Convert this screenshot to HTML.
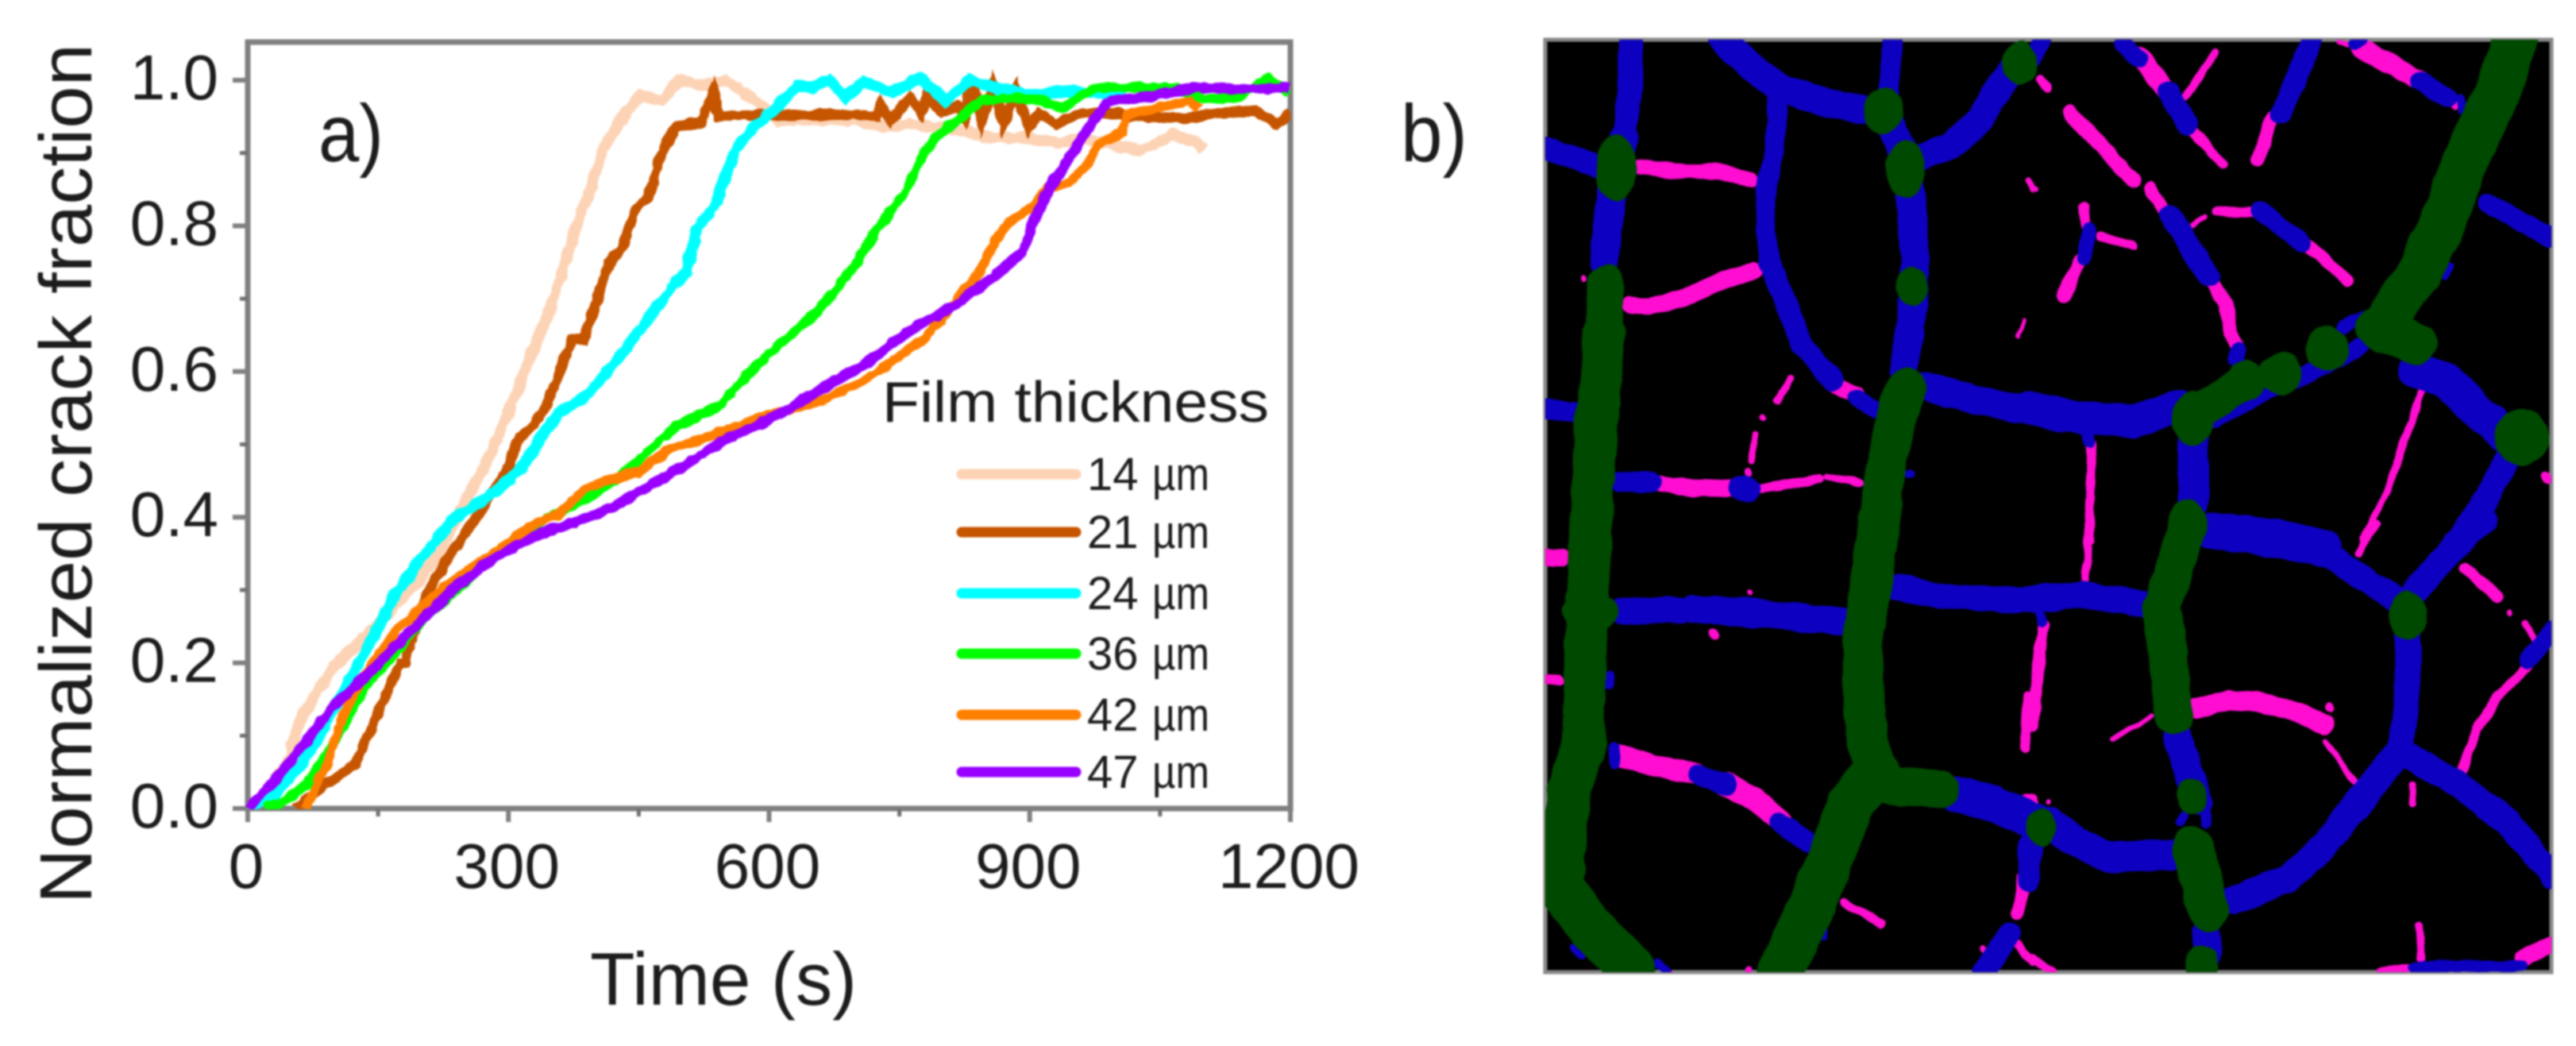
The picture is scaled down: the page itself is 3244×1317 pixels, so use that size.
<!DOCTYPE html>
<html lang="en">
<head>
<meta charset="utf-8">
<title>Crack fraction chart and crack map</title>
<style>
html,body{margin:0;padding:0;background:#fff;width:3244px;height:1317px;overflow:hidden}
svg{display:block;filter:blur(1px)}
text{font-family:"Liberation Sans",sans-serif;fill:#1c1c1c}
</style>
</head>
<body>
<svg id="fig" xmlns="http://www.w3.org/2000/svg" width="3244" height="1317" viewBox="0 0 3244 1317">
  <defs>
    <clipPath id="mapClip"><rect x="1946" y="50" width="1267" height="1174"/></clipPath>
    <clipPath id="plotClip"><rect x="308" y="53" width="1317" height="966"/></clipPath>
    <filter id="roughMap" filterUnits="userSpaceOnUse" x="1900" y="0" width="1344" height="1317">
      <feTurbulence type="fractalNoise" baseFrequency="0.035" numOctaves="2" seed="4"/>
      <feDisplacementMap in="SourceGraphic" scale="7" xChannelSelector="R" yChannelSelector="G"/>
    </filter>
    <filter id="roughLine" filterUnits="userSpaceOnUse" x="280" y="30" width="1380" height="1010">
      <feTurbulence type="fractalNoise" baseFrequency="0.07" numOctaves="2" seed="9"/>
      <feDisplacementMap in="SourceGraphic" scale="7" xChannelSelector="R" yChannelSelector="G"/>
    </filter>
  </defs>
  <g id="chart">
    <rect x="312" y="53" width="1313" height="965" fill="none" stroke="#808080" stroke-width="7"/>
    <g id="yticks"></g>
    <g id="xticks"></g>
    <g clip-path="url(#plotClip)">
      <g id="series" filter="url(#roughLine)"></g>
    </g>
    <text transform="translate(115,1138) rotate(-90)" font-size="93" textLength="1083" lengthAdjust="spacingAndGlyphs">Normalized crack fraction</text>
    <text x="743" y="1265" font-size="94" textLength="336" lengthAdjust="spacingAndGlyphs">Time (s)</text>
    <text x="401" y="203" font-size="102" textLength="82" lengthAdjust="spacingAndGlyphs">a)</text>
    <text x="1111" y="531" font-size="72" textLength="487" lengthAdjust="spacingAndGlyphs">Film thickness</text>
    <g id="legend"></g>
  </g>
  <text x="1764" y="203" font-size="102" textLength="84" lengthAdjust="spacingAndGlyphs">b)</text>
  <g id="mapOuter">
    <rect x="1946" y="50" width="1267" height="1174" fill="#000" stroke="#888" stroke-width="5"/>
    <g clip-path="url(#mapClip)">
      <g id="map" filter="url(#roughMap)"></g>
    </g>
  </g>
</svg>
<script>
// Chart data
const thicknessLabels = ["14", "21", "24", "36", "42", "47"];
const seriesColors = ["#fdd3b6", "#c65500", "#00ffff", "#00ff00", "#ff7f00", "#9900ff"];
const xTickLabels = [0, 300, 600, 900, 1200];
const xMinorTicks = [150, 450, 750, 1050];
const yTickLabels = ["0.0", "0.2", "0.4", "0.6", "0.8", "1.0"];
const yTickValues = [0, 0.2, 0.4, 0.6, 0.8, 1.0];
const yMinorTicks = [0.1, 0.3, 0.5, 0.7, 0.9];

const time14 = [0,20,46,59,82,101,143,195,218,250,279,301,330,350,368,383,395,409,432,452,476,497,525,550,571,591,612,650,700,733,760,790,825,855,896,933,960,986,1027,1064,1089,1100];
const frac14 = [0,0.02,0.063,0.118,0.165,0.197,0.245,0.31,0.347,0.42,0.485,0.546,0.634,0.692,0.761,0.816,0.852,0.906,0.95,0.979,0.972,1.0,0.993,1.0,0.983,0.965,0.944,0.946,0.945,0.936,0.94,0.936,0.93,0.921,0.921,0.914,0.92,0.914,0.903,0.925,0.917,0.906];

const time21 = [55,70,87,124,153,176,180,208,232,269,301,309,330,344,362,373,387,416,431,444,464,476,493,522,536,542,583,650,700,725,729,740,762,775,782,800,817,825,833,845,858,870,885,899,910,930,960,990,1030,1080,1120,1160,1185,1200];
const frac21 = [0,0.015,0.03,0.062,0.14,0.2,0.2,0.3,0.347,0.409,0.47,0.503,0.529,0.554,0.608,0.644,0.644,0.75,0.769,0.816,0.848,0.9,0.936,0.943,0.983,0.95,0.952,0.952,0.953,0.95,0.965,0.945,0.976,0.955,0.979,0.955,0.965,0.95,1.004,0.945,0.99,0.94,0.985,0.935,0.955,0.94,0.955,0.955,0.95,0.948,0.955,0.958,0.94,0.955];

const time24 = [0,31,64,101,139,171,204,237,288,316,344,358,395,432,485,505,517,537,554,562,582,611,632,650,668,688,709,741,774,803,831,864,905,940,975,1010];
const frac24 = [0,0.02,0.063,0.14,0.224,0.296,0.35,0.398,0.437,0.47,0.521,0.543,0.572,0.627,0.71,0.739,0.797,0.827,0.881,0.905,0.936,0.965,0.992,0.99,1.001,0.977,0.998,0.983,1.003,0.972,1.0,0.988,0.98,0.985,0.982,0.985];

const time36 = [20,45,69,101,134,171,208,250,288,344,390,428,456,493,544,578,619,660,701,725,754,770,791,815,844,885,915,937,955,978,1027,1068,1100,1140,1158,1175,1200];
const frac36 = [0,0.012,0.034,0.093,0.165,0.216,0.267,0.31,0.354,0.398,0.425,0.456,0.485,0.525,0.554,0.6,0.644,0.688,0.75,0.797,0.841,0.881,0.921,0.943,0.972,0.976,0.972,0.961,0.976,0.99,0.99,0.99,0.974,0.976,0.99,1.004,0.98];

const time42 = [66,92,110,129,171,232,279,325,358,390,418,451,483,512,554,600,660,713,782,819,844,860,876,905,921,945,966,978,1006,1013,1043,1084,1095];
const frac42 = [0,0.063,0.129,0.172,0.245,0.31,0.347,0.387,0.405,0.44,0.452,0.463,0.492,0.503,0.521,0.54,0.56,0.59,0.649,0.703,0.739,0.78,0.805,0.827,0.852,0.859,0.884,0.911,0.928,0.954,0.961,0.972,0.96];

const time47 = [0,36,64,101,143,176,204,241,288,330,377,418,465,507,544,591,619,660,713,766,815,839,872,892,905,925,945,966,990,1043,1088,1140,1200];
const frac47 = [0,0.045,0.088,0.143,0.19,0.23,0.263,0.306,0.347,0.374,0.394,0.412,0.445,0.474,0.503,0.529,0.546,0.576,0.612,0.66,0.692,0.714,0.743,0.764,0.808,0.856,0.892,0.932,0.97,0.979,0.99,0.988,0.99];

const seriesTimes = [time14, time21, time24, time36, time42, time47];
const seriesFractions = [frac14, frac21, frac24, frac36, frac42, frac47];
const seriesWidths = [14, 13, 14, 12, 12, 13];

// Crack map tracing: each list holds [width, "x,y ..."] traced in one of four image tiles.
const tileOrigins = [[1900,20,2.376,2.376],[2560,20,2.306,2.376],[1900,660,2.376,2.53],[2560,660,2.306,2.53]];

const pinkTile0 = [[45,"390,450 500,465 620,465 725,490"],[50,"365,865 420,870 520,845 640,790 735,765"],[50,"430,1395 530,1410 655,1415"],[30,"755,1415 830,1405 930,1385"],[22,"955,1380 1050,1395"],[22,"715,1362 718,1368"],[18,"722,1330 737,1250"],[18,"757,1203 758,1205"],[20,"800,1150 845,1085"],[50,"980,1105 1040,1135"],[12,"1525,960 1545,910"],[18,"1555,495 1568,520"],[15,"225,785 226,788"]];
const pinkTile1 = [[55,"310,120 390,230"],[25,"445,240 530,110"],[30,"20,190 45,215"],[45,"110,290 200,390 290,490"],[35,"340,510 390,600"],[30,"455,330 550,445"],[40,"700,300 650,430"],[15,"890,78 930,90"],[60,"950,95 1120,190"],[30,"1205,250 1225,265"],[35,"790,680 915,790"],[28,"535,585 640,585"],[15,"460,625 500,605"],[28,"150,570 155,630"],[28,"200,660 290,685"],[38,"135,730 90,840"],[40,"505,780 560,860 575,950 590,985"],[15,"0,515 10,520"],[28,"170,1280 165,1568"],[22,"1130,1115 1070,1300 1030,1420 960,1568"],[30,"1490,1375 1492,1385"],[16,"1328,540 1330,545"]];
const pinkTile2 = [[55,"108,105 160,105"],[30,"108,495 150,500"],[65,"330,735 440,770 560,795"],[70,"650,830 740,880 810,940"],[28,"615,350 616,355"],[25,"1005,1205 1115,1275"],[30,"1555,550 1545,710"],[40,"1540,1130 1525,1235"],[25,"1520,1340 1568,1390"],[25,"1505,1285 1506,1288"],[18,"1420,1350 1421,1353"],[15,"480,1425 470,1420"],[20,"715,1420 716,1423"],[30,"1545,875 1568,875"],[15,"720,215 721,220"]];
const pinkTile3 = [[22,"160,0 155,180"],[35,"30,320 0,640"],[22,"1000,0 945,90"],[35,"1255,140 1350,230"],[18,"1385,280 1386,284"],[20,"1430,315 1455,370"],[30,"1440,450 1350,550 1290,650 1245,790"],[60,"480,585 570,560 650,565 740,590 845,635"],[25,"860,580 861,583"],[18,"850,690 935,820"],[16,"345,610 235,685"],[22,"1105,830 1105,890"],[25,"1120,1280 1125,1380"],[25,"1010,1425 1095,1410"],[30,"1210,1410 1300,1410"],[50,"1420,1385 1500,1340"],[25,"0,1380 60,1425"],[15,"0,880 10,885"],[14,"45,885 46,887"]];

const blueTile0 = [[70,"365,70 365,200 345,360"],[85,"345,360 310,520 285,740"],[70,"108,395 200,425 290,460"],[85,"640,70 720,150 810,215 950,260 1090,285"],[60,"1150,70 1135,230"],[58,"805,250 790,450 765,520 770,650 780,740"],[65,"780,740 830,860 880,990 970,1090"],[50,"1040,1145 1125,1190"],[85,"1125,290 1190,430 1210,600 1215,800 1200,950 1180,1060"],[80,"1240,420 1320,390 1410,310 1470,210 1530,130"],[85,"1240,1105 1400,1150 1580,1185"],[60,"330,1395 430,1395"],[60,"108,1175 200,1185"],[25,"1195,1370 1205,1370"]];
const blueTile1 = [[100,"-10,1175 100,1195 200,1205 300,1210 420,1170"],[30,"160,1250 165,1275"],[90,"465,1260 465,1460"],[50,"30,70 0,130"],[50,"260,80 310,130"],[65,"395,230 450,325"],[65,"810,70 760,200 720,290"],[55,"660,580 780,680"],[65,"400,600 450,680 510,780"],[45,"165,640 150,720"],[45,"595,1000 590,1030"],[30,"930,85 960,75"],[60,"1125,195 1200,245"],[30,"1240,250 1250,280"],[55,"520,1210 660,1130 800,1070 950,990"],[40,"900,930 960,900"],[105,"1110,1060 1200,1090 1300,1190 1380,1260"],[60,"1320,560 1500,660"],[75,"1380,1320 1320,1440 1230,1580"],[90,"520,1530 700,1550 850,1580"],[25,"1210,750 1195,780"]];
const blueTile2 = [[80,"340,275 510,275"],[85,"550,270 700,280 1000,310"],[75,"1160,200 1300,230 1580,245"],[110,"1340,860 1450,890 1580,950"],[35,"315,710 315,760"],[65,"570,800 650,830"],[60,"810,950 890,1010"],[65,"1500,1300 1420,1430"],[60,"1555,1020 1555,1140"],[30,"200,1350 215,1370"],[25,"445,1395 470,1420"],[25,"945,1290 945,1310"],[30,"300,480 300,510"]];
const blueTile3 = [[80,"-10,240 140,225 330,255"],[30,"20,290 25,310"],[75,"510,35 700,65 860,100 1000,200 1085,260"],[80,"1100,230 1230,60 1310,-10"],[75,"1090,350 1090,500 1080,620 1060,730"],[85,"1060,730 950,880 850,1020 740,1130 580,1200"],[80,"1080,730 1240,830 1380,950 1510,1120"],[85,"420,670 450,780 480,880"],[30,"440,930 430,950"],[30,"500,920 505,950"],[90,"50,950 120,1010 220,1060 410,1050"],[80,"500,1300 510,1370"],[55,"1440,430 1510,340"],[35,"1105,1410 1420,1405"],[35,"0,1100 20,1000"]];

const greenTile0 = [[110,"290,800 285,950"],[125,"285,950 265,1200"],[130,"262,1200 255,1380"],[120,"250,1380 250,1580"],[120,"1190,1110 1150,1230 1120,1400 1105,1580"]];
const greenTile1 = [[135,"1400,75 1350,230 1270,400 1190,620 1120,770"],[130,"1120,770 1040,890 1010,940"],[125,"1000,930 1110,980"],[105,"460,1200 620,1090"]];
const greenTile2 = [[125,"245,-10 240,150 235,250 230,400 225,600 225,700"],[130,"225,700 180,850 160,1100"],[140,"150,1150 250,1290 370,1420"],[120,"1105,-10 1085,200 1060,330 1060,500 1075,700 1100,770"],[140,"1100,790 1020,900 950,1100 880,1280 810,1430"],[115,"1100,830 1290,845"]];
const greenTile3 = [[115,"450,-10 410,150 375,260"],[115,"375,260 390,400 410,610"],[125,"465,1030 510,1230"]];

const blueBlobs = [[0,705,1415,50,40]];
const greenBlobs = [[0,322,455,60,100],[0,1122,285,58,70],[0,1187,458,58,85],[0,1208,808,48,55],[0,1530,140,52,65],[1,855,995,62,68],[1,720,1070,60,65],[1,620,1090,55,60],[1,465,1205,60,80],[1,1420,1260,80,85],[1,450,1520,55,75],[2,245,280,85,60],[3,462,870,45,55],[3,25,965,45,60],[3,490,1400,50,60],[3,1090,290,55,80]];

const SVGNS = "http://www.w3.org/2000/svg";
const xLeft = 312, xRight = 1625, yZero = 1018, yOne = 101;
function xAxis(t){ return xLeft + (t / 1200) * (xRight - xLeft); }
function yAxis(f){ return yZero - f * (yZero - yOne); }
function make(tag, parent, attrs){
  const el = document.createElementNS(SVGNS, tag);
  for (const k in attrs) el.setAttribute(k, attrs[k]);
  parent.appendChild(el);
  return el;
}
const yticks = document.getElementById("yticks");
const xticks = document.getElementById("xticks");
yTickValues.forEach(function(v, i){
  const tick = make("line", yticks, {x1: xLeft - 19, x2: xLeft, y1: yAxis(v), y2: yAxis(v), stroke: "#808080", "stroke-width": 6});
  
  
  const label = make("text", yticks, {x: 275, y: yAxis(v) + 24, "font-size": 80, "text-anchor": "end"});
  
  
  label.textContent = yTickLabels[i];
});
yMinorTicks.forEach(function(v){
  const tick = make("line", yticks, {x1: xLeft - 10, x2: xLeft, y1: yAxis(v), y2: yAxis(v), stroke: "#707070", "stroke-width": 5});
  
  
});
xTickLabels.forEach(function(v){
  const tick = make("line", xticks, {x1: xAxis(v), x2: xAxis(v), y1: yZero, y2: yZero + 17, stroke: "#808080", "stroke-width": 6});
  
  
  const label = make("text", xticks, {x: xAxis(v) - 2, y: 1118, "font-size": 80, "text-anchor": "middle"});
  
  
  label.textContent = String(v);
});
xMinorTicks.forEach(function(v){
  const tick = make("line", xticks, {x1: xAxis(v), x2: xAxis(v), y1: yZero, y2: yZero + 10, stroke: "#707070", "stroke-width": 5});
  
  
});
const seriesGroup = document.getElementById("series");
seriesTimes.forEach(function(times, i){
  const pts = times.map(function(t, j){ return xAxis(t).toFixed(1) + "," + yAxis(seriesFractions[i][j]).toFixed(1); }).join(" ");
  const line = make("polyline", seriesGroup, {points: pts, fill: "none", stroke: seriesColors[i], "stroke-width": seriesWidths[i], "stroke-linejoin": "miter"});
  
  
});
const legendY = [597, 670, 747, 823, 900, 972];
const legendGroup = document.getElementById("legend");
thicknessLabels.forEach(function(name, i){
  const swatch = make("line", legendGroup, {x1: 1211, x2: 1355, y1: legendY[i], y2: legendY[i], stroke: seriesColors[i], "stroke-width": 13, "stroke-linecap": "round"});
  
  
  const label = make("text", legendGroup, {x: 1369, y: legendY[i] + 20, "font-size": 58});
  
  
  label.textContent = name;
  const unit = make("text", legendGroup, {x: 1451, y: legendY[i] + 20, "font-size": 58, textLength: 72, lengthAdjust: "spacingAndGlyphs"});
  
  
  unit.textContent = "\u00b5m";
});
const map = document.getElementById("map");
function tilePoints(tile, pts){
  const o = tileOrigins[tile];
  return pts.split(" ").map(function(p){
    const c = p.split(",");
    return (o[0] + c[0] / o[2]).toFixed(1) + "," + (o[1] + c[1] / o[3]).toFixed(1);
  }).join(" ");
}
function drawCracks(tiles, color, name){
  tiles.forEach(function(list, tile){
    list.forEach(function(c){
      const p = make("polyline", map, {points: tilePoints(tile, c[1]), fill: "none", stroke: color, "stroke-width": (c[0] / 2.36).toFixed(1), "stroke-linejoin": "round", "stroke-linecap": "round"});
      
      
    });
  });
}
function drawBlobs(list, color, name){
  list.forEach(function(b){
    const o = tileOrigins[b[0]];
    const e = make("ellipse", map, {cx: o[0] + b[1] / o[2], cy: o[1] + b[2] / o[3], rx: b[3] / o[2], ry: b[4] / o[3], fill: color});
    
    
  });
}
drawCracks([pinkTile0, pinkTile1, pinkTile2, pinkTile3], "#ff10d0", "thin-crack");
drawCracks([blueTile0, blueTile1, blueTile2, blueTile3], "#0800c0", "medium-crack");
drawBlobs(blueBlobs, "#0800c0", "medium-crack-blob");
drawCracks([greenTile0, greenTile1, greenTile2, greenTile3], "#024a02", "wide-crack");
drawBlobs(greenBlobs, "#024a02", "wide-crack-blob");
</script>
</body>
</html>
